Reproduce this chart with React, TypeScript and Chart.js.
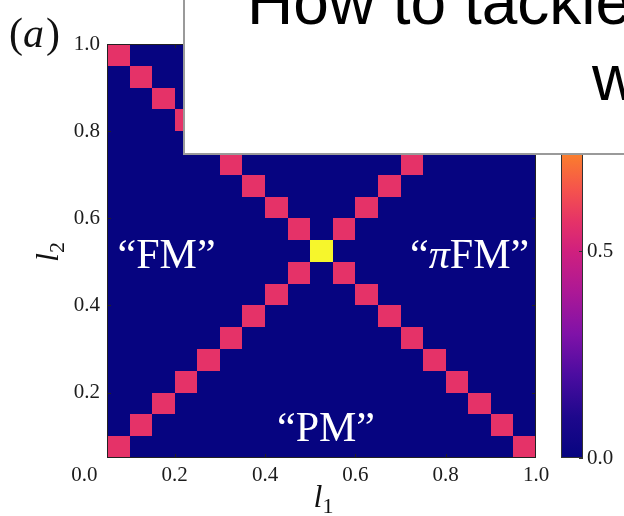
import React, { useEffect, useRef } from "react";
import { Chart, registerables } from "chart.js";

Chart.register(...registerables);

const WIDTH = 624;
const HEIGHT = 516;

// Lower-left corners of the grid cells along each coupling
const L1_EDGES = [0.05, 0.1, 0.15, 0.2, 0.25, 0.3, 0.35, 0.4, 0.45, 0.5, 0.55, 0.6, 0.65, 0.7, 0.75, 0.8, 0.85, 0.9, 0.95];
const L2_EDGES = [0.05, 0.1, 0.15, 0.2, 0.25, 0.3, 0.35, 0.4, 0.45, 0.5, 0.55, 0.6, 0.65, 0.7, 0.75, 0.8, 0.85, 0.9, 0.95];
const CELL_SIZE = 0.05;

// Value on the critical lines
const P = 0.57;

// Rows run from l2 = 0.05 (first) up to l2 = 0.95 (last); columns follow L1_EDGES
const GRID = [
  [P, 0, 0, 0, 0, 0, 0, 0, 0, 0, 0, 0, 0, 0, 0, 0, 0, 0, P],
  [0, P, 0, 0, 0, 0, 0, 0, 0, 0, 0, 0, 0, 0, 0, 0, 0, P, 0],
  [0, 0, P, 0, 0, 0, 0, 0, 0, 0, 0, 0, 0, 0, 0, 0, P, 0, 0],
  [0, 0, 0, P, 0, 0, 0, 0, 0, 0, 0, 0, 0, 0, 0, P, 0, 0, 0],
  [0, 0, 0, 0, P, 0, 0, 0, 0, 0, 0, 0, 0, 0, P, 0, 0, 0, 0],
  [0, 0, 0, 0, 0, P, 0, 0, 0, 0, 0, 0, 0, P, 0, 0, 0, 0, 0],
  [0, 0, 0, 0, 0, 0, P, 0, 0, 0, 0, 0, P, 0, 0, 0, 0, 0, 0],
  [0, 0, 0, 0, 0, 0, 0, P, 0, 0, 0, P, 0, 0, 0, 0, 0, 0, 0],
  [0, 0, 0, 0, 0, 0, 0, 0, P, 0, P, 0, 0, 0, 0, 0, 0, 0, 0],
  [0, 0, 0, 0, 0, 0, 0, 0, 0, 1, 0, 0, 0, 0, 0, 0, 0, 0, 0],
  [0, 0, 0, 0, 0, 0, 0, 0, P, 0, P, 0, 0, 0, 0, 0, 0, 0, 0],
  [0, 0, 0, 0, 0, 0, 0, P, 0, 0, 0, P, 0, 0, 0, 0, 0, 0, 0],
  [0, 0, 0, 0, 0, 0, P, 0, 0, 0, 0, 0, P, 0, 0, 0, 0, 0, 0],
  [0, 0, 0, 0, 0, P, 0, 0, 0, 0, 0, 0, 0, P, 0, 0, 0, 0, 0],
  [0, 0, 0, 0, P, 0, 0, 0, 0, 0, 0, 0, 0, 0, P, 0, 0, 0, 0],
  [0, 0, 0, P, 0, 0, 0, 0, 0, 0, 0, 0, 0, 0, 0, P, 0, 0, 0],
  [0, 0, P, 0, 0, 0, 0, 0, 0, 0, 0, 0, 0, 0, 0, 0, P, 0, 0],
  [0, P, 0, 0, 0, 0, 0, 0, 0, 0, 0, 0, 0, 0, 0, 0, 0, P, 0],
  [P, 0, 0, 0, 0, 0, 0, 0, 0, 0, 0, 0, 0, 0, 0, 0, 0, 0, P],
];

const X_TICKS = [0.0, 0.2, 0.4, 0.6, 0.8, 1.0];
const Y_TICKS = [0.2, 0.4, 0.6, 0.8, 1.0];
const CBAR_TICKS = [0.0, 0.5, 1.0];

// Phase names, anchored at (l1, l2) on the text baseline centre
const PHASE_LABELS = [
  { runs: [{ t: "\u201CFM\u201D", it: false }], l1: 0.182, l2: 0.487 },
  { runs: [{ t: "\u201C", it: false }, { t: "\u03C0", it: true }, { t: "FM\u201D", it: false }], l1: 0.853, l2: 0.487 },
  { runs: [{ t: "\u201CPM\u201D", it: false }], l1: 0.535, l2: 0.088 },
];

const TITLE_LINES = ["How to tackle", "w"];

// Colour map: value -> rgb
const COLOR_STOPS: number[][] = [
  [0.0, 6, 4, 128],
  [0.1, 30, 8, 140],
  [0.2, 75, 12, 160],
  [0.3, 128, 18, 168],
  [0.4, 172, 24, 150],
  [0.5, 208, 32, 126],
  [0.57, 229, 50, 104],
  [0.65, 245, 84, 76],
  [0.73, 250, 124, 46],
  [0.86, 250, 188, 38],
  [1.0, 246, 246, 44],
];

function colormap(v: number): string {
  const s = COLOR_STOPS;
  if (v <= s[0][0]) return `rgb(${s[0][1]},${s[0][2]},${s[0][3]})`;
  for (let k = 1; k < s.length; k++) {
    if (v <= s[k][0]) {
      const a = s[k - 1];
      const b = s[k];
      const f = (v - a[0]) / (b[0] - a[0]);
      const c = [1, 2, 3].map((q) => Math.round(a[q] + (b[q] - a[q]) * f));
      return `rgb(${c[0]},${c[1]},${c[2]})`;
    }
  }
  const l = s[s.length - 1];
  return `rgb(${l[1]},${l[2]},${l[3]})`;
}

const SERIF = '"Liberation Serif", "Times New Roman", serif';
const SANS = '"Liberation Sans", Arial, sans-serif';
const INK = "#1c1c1c";

function drawRuns(ctx: CanvasRenderingContext2D, runs: { t: string; it: boolean }[], x: number, y: number, size: number, color: string) {
  const fontFor = (it: boolean) => `${it ? "italic " : ""}${size}px ${SERIF}`;
  let total = 0;
  for (const r of runs) {
    ctx.font = fontFor(r.it);
    total += ctx.measureText(r.t).width;
  }
  let cx = x - total / 2;
  ctx.fillStyle = color;
  ctx.textAlign = "left";
  ctx.textBaseline = "alphabetic";
  for (const r of runs) {
    ctx.font = fontFor(r.it);
    ctx.fillText(r.t, cx, y);
    cx += ctx.measureText(r.t).width;
  }
}

const heatmapPlugin = {
  id: "heatmapCells",
  beforeDatasetsDraw(chart: any) {
    const { ctx, chartArea: a, scales } = chart;
    const xs = scales.x;
    const ys = scales.y;
    ctx.save();
    ctx.beginPath();
    ctx.rect(a.left, a.top, a.right - a.left, a.bottom - a.top);
    ctx.clip();
    for (const c of chart.data.datasets[0].data) {
      const x0 = Math.round(xs.getPixelForValue(c.x));
      const x1 = Math.round(xs.getPixelForValue(c.x + CELL_SIZE));
      const y0 = Math.round(ys.getPixelForValue(c.y + CELL_SIZE));
      const y1 = Math.round(ys.getPixelForValue(c.y));
      ctx.fillStyle = colormap(c.v);
      ctx.fillRect(x0, y0, x1 - x0, y1 - y0);
    }
    ctx.restore();

    // frame and inward ticks
    ctx.save();
    ctx.strokeStyle = "#222";
    ctx.lineWidth = 1;
    ctx.strokeRect(a.left + 0.5, a.top + 0.5, a.right - a.left - 1, a.bottom - a.top - 1);
    ctx.beginPath();
    for (const v of Y_TICKS) {
      const py = Math.round(ys.getPixelForValue(v)) + 0.5;
      ctx.moveTo(a.left, py);
      ctx.lineTo(a.left + 4, py);
      ctx.moveTo(a.right, py);
      ctx.lineTo(a.right - 4, py);
    }
    for (const v of X_TICKS) {
      const px = Math.round(xs.getPixelForValue(v)) + 0.5;
      if (px < a.left + 1 || px > a.right - 1) continue;
      ctx.moveTo(px, a.bottom);
      ctx.lineTo(px, a.bottom - 4);
      ctx.moveTo(px, a.top);
      ctx.lineTo(px, a.top + 4);
    }
    ctx.stroke();
    ctx.restore();
  },
  afterDraw(chart: any) {
    const { ctx, chartArea: a, scales } = chart;
    const xs = scales.x;
    const ys = scales.y;
    const cb = scales.cb;

    // colour bar
    const bx = cb.left + 25;
    const bw = 22;
    const yTop = cb.getPixelForValue(1);
    const yBot = cb.getPixelForValue(0);
    ctx.save();
    const grad = ctx.createLinearGradient(0, yBot, 0, yTop);
    for (const s of COLOR_STOPS) grad.addColorStop(s[0], `rgb(${s[1]},${s[2]},${s[3]})`);
    ctx.fillStyle = grad;
    ctx.fillRect(bx, yTop, bw, yBot - yTop);
    ctx.strokeStyle = "#333";
    ctx.lineWidth = 1;
    ctx.strokeRect(bx + 0.5, yTop + 0.5, bw - 1, yBot - yTop - 1);
    ctx.beginPath();
    for (const v of CBAR_TICKS) {
      const py = Math.round(cb.getPixelForValue(v)) + 0.5;
      ctx.moveTo(bx + bw, py);
      ctx.lineTo(bx + bw - 4, py);
    }
    ctx.stroke();
    ctx.restore();

    // phase names
    ctx.save();
    for (const lab of PHASE_LABELS) {
      drawRuns(ctx, lab.runs, xs.getPixelForValue(lab.l1), ys.getPixelForValue(lab.l2), 42, "#ffffff");
    }
    ctx.restore();

    // panel tag
    ctx.save();
    ctx.fillStyle = "#111";
    ctx.textBaseline = "alphabetic";
    ctx.textAlign = "left";
    let tx = 9;
    const tagRuns = [
      { t: "(", it: false },
      { t: "a", it: true },
      { t: ")", it: false },
    ];
    for (const r of tagRuns) {
      ctx.font = `${r.it ? "italic " : ""}42px ${SERIF}`;
      ctx.fillText(r.t, tx, 47);
      tx += ctx.measureText(r.t).width + (r.it ? 2 : 0);
    }
    ctx.restore();

    // axis titles
    ctx.save();
    ctx.fillStyle = "#111";
    ctx.textBaseline = "alphabetic";
    ctx.textAlign = "left";
    ctx.font = `italic 32px ${SERIF}`;
    const lw = ctx.measureText("l").width;
    const x1c = (a.left + a.right) / 2 - 8;
    ctx.fillText("l", x1c, 507);
    ctx.font = `22px ${SERIF}`;
    ctx.fillText("1", x1c + lw, 513);

    ctx.translate(58, 262);
    ctx.rotate(-Math.PI / 2);
    ctx.font = `italic 32px ${SERIF}`;
    ctx.fillText("l", 0, 0);
    ctx.font = `22px ${SERIF}`;
    ctx.fillText("2", lw, 6);
    ctx.restore();

    // overlaid caption box
    ctx.save();
    ctx.fillStyle = "#ffffff";
    ctx.fillRect(183, -4, WIDTH + 10, 159);
    ctx.strokeStyle = "#9a9a9a";
    ctx.lineWidth = 2;
    ctx.strokeRect(184, -4, WIDTH + 10, 158);
    ctx.fillStyle = "#000";
    ctx.font = `64px ${SANS}`;
    ctx.textBaseline = "alphabetic";
    ctx.textAlign = "left";
    ctx.fillText(TITLE_LINES[0], 247, 24);
    ctx.fillText(TITLE_LINES[1], 592, 100);
    ctx.restore();
  },
};

// Keep the plot box fixed: tick labels must not push the chart area around
function noVerticalOverflow(s: any) {
  s.paddingTop = 0;
  s.paddingBottom = 0;
}

export default function App() {
  const canvasRef = useRef<HTMLCanvasElement | null>(null);

  useEffect(() => {
    const canvas = canvasRef.current;
    if (!canvas) return;
    const cells: { x: number; y: number; v: number }[] = [];
    GRID.forEach((row, j) => {
      row.forEach((v, i) => {
        cells.push({ x: L1_EDGES[i], y: L2_EDGES[j], v });
      });
    });

    const tickFont = { family: SERIF, size: 21 };
    const chart = new Chart(canvas, {
      type: "scatter",
      data: {
        datasets: [{ data: cells as any, pointRadius: 0, pointHoverRadius: 0 }],
      },
      options: {
        animation: false,
        responsive: false,
        events: [],
        layout: { padding: { left: 0, top: 44, right: 0, bottom: 0 } },
        plugins: { legend: { display: false }, tooltip: { enabled: false } },
        scales: {
          x: {
            type: "linear",
            min: 0.05,
            max: 1.0,
            grid: { display: false, drawTicks: false },
            border: { display: false },
            ticks: {
              font: tickFont,
              color: INK,
              padding: 5,
              autoSkip: false,
              maxRotation: 0,
              callback: (v: any) => Number(v).toFixed(1),
            },
            afterBuildTicks: (s: any) => {
              s.ticks = X_TICKS.map((value) => ({ value }));
            },
            afterFit: (s: any) => {
              s.height = 58;
              s.paddingLeft = 0;
              s.paddingRight = 0;
            },
          },
          y: {
            type: "linear",
            min: 0.05,
            max: 1.0,
            grid: { display: false, drawTicks: false },
            border: { display: false },
            ticks: {
              font: tickFont,
              color: INK,
              padding: 7,
              autoSkip: false,
              callback: (v: any) => Number(v).toFixed(1),
            },
            afterBuildTicks: (s: any) => {
              s.ticks = Y_TICKS.map((value) => ({ value }));
            },
            afterFit: (s: any) => {
              s.width = 107;
              noVerticalOverflow(s);
            },
          },
          cb: {
            type: "linear",
            position: "right",
            min: 0,
            max: 1,
            grid: { display: false, drawTicks: false },
            border: { display: false },
            ticks: {
              font: tickFont,
              color: INK,
              padding: 51,
              autoSkip: false,
              callback: (v: any) => Number(v).toFixed(1),
            },
            afterBuildTicks: (s: any) => {
              s.ticks = CBAR_TICKS.map((value) => ({ value }));
            },
            afterFit: (s: any) => {
              s.width = 88;
              noVerticalOverflow(s);
            },
          },
        },
      },
      plugins: [heatmapPlugin],
    });
    return () => chart.destroy();
  }, []);

  return (
    <div style={{ position: "fixed", left: 0, top: 0, width: WIDTH, height: HEIGHT, background: "#fff" }}>
      <canvas ref={canvasRef} width={WIDTH} height={HEIGHT} style={{ display: "block" }} />
    </div>
  );
}
